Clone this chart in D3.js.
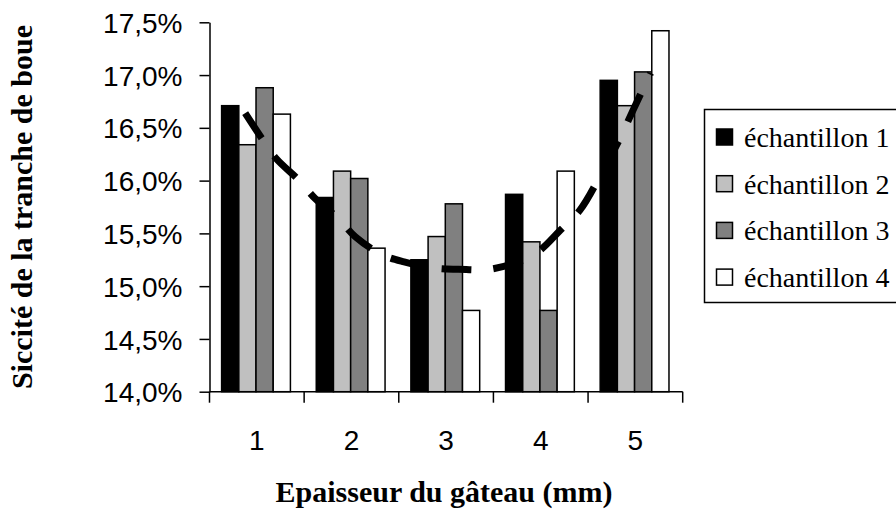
<!DOCTYPE html>
<html><head><meta charset="utf-8">
<script src="https://cdn.jsdelivr.net/npm/d3@7"></script>
<style>body{margin:0;background:#fff}svg{display:block}
.serif{font-family:"Liberation Serif","Times New Roman",serif}
.sans{font-family:"Liberation Sans",Arial,sans-serif}
</style>
</head><body>
<svg id="chart" width="896" height="511"></svg>
<script>
const categories = ["1","2","3","4","5"];
const seriesNames = ["échantillon 1","échantillon 2","échantillon 3","échantillon 4"];
const serie1 = [16.71, 15.84, 15.25, 15.87, 16.95];
const serie2 = [16.34, 16.09, 15.47, 15.42, 16.71];
const serie3 = [16.88, 16.02, 15.78, 14.77, 17.03];
const serie4 = [16.63, 15.36, 14.77, 16.09, 17.42];
const seriesColors = ["#000000","#c0c0c0","#808080","#ffffff"];
const yTicks = [14.0, 14.5, 15.0, 15.5, 16.0, 16.5, 17.0, 17.5];
// dashed trend curve (x in category units, value in %)
const trendX = [0.877, 1.053, 1.204, 1.450, 1.616, 1.862, 2.039, 2.320, 2.556, 2.883, 3.129, 3.464, 3.816, 3.992, 4.196, 4.414, 4.643, 4.837, 4.977, 5.161];
const trendY = [16.64, 16.40, 16.21, 16.00, 15.83, 15.64, 15.47, 15.30, 15.23, 15.17, 15.16, 15.16, 15.25, 15.34, 15.52, 15.72, 16.07, 16.40, 16.67, 17.02];

const allSeries = [serie1, serie2, serie3, serie4];
const svg = d3.select("#chart");
const L = 209.5, R = 682.7, T = 22.3, B = 391.7;

const x0 = d3.scaleBand().domain(categories).range([L, R]).padding(0);
const bw = x0.bandwidth();
const x1 = d3.scaleBand().domain(d3.range(4)).range([bw*0.128, bw*0.855]).padding(0);
const xc = d3.scaleLinear().domain([0.5, 5.5]).range([L, R]);
const y = d3.scaleLinear().domain([14, 17.5]).range([B, T]);

// bars
const g = svg.append("g");
categories.forEach((c, ci) => {
  allSeries.forEach((s, si) => {
    g.append("rect")
      .attr("x", x0(c) + x1(si))
      .attr("y", y(s[ci]))
      .attr("width", x1.bandwidth())
      .attr("height", y(14) - y(s[ci]))
      .attr("fill", seriesColors[si])
      .attr("stroke", "#000")
      .attr("stroke-width", 1.5);
  });
});

// trend line
const pts = trendX.map((v, i) => [xc(v), y(trendY[i])]);
svg.append("path")
  .attr("d", d3.line().curve(d3.curveCatmullRom)(pts))
  .attr("fill", "none")
  .attr("stroke", "#000")
  .attr("stroke-width", 7)
  .attr("stroke-dasharray", "30,22");

// y axis
const yAxis = d3.axisLeft(y).tickValues(yTicks).tickSize(10).tickSizeOuter(0)
  .tickFormat(d => d3.format(".1f")(d).replace(".", ",") + "%");
const ya = svg.append("g").attr("transform", `translate(${L},0)`).call(yAxis);
ya.attr("font-family", null).attr("font-size", null);
ya.selectAll("text").attr("class", "sans")
  .attr("font-size", 28).attr("fill", "#000").attr("x", -27).attr("dy", "0.36em");
ya.selectAll("line,path").attr("stroke", "#000").attr("stroke-width", 1.5);

// x axis
const xa = svg.append("g").attr("transform", `translate(0,${B})`);
xa.append("line").attr("x1", L).attr("x2", R).attr("y1", 0).attr("y2", 0)
  .attr("stroke", "#000").attr("stroke-width", 1.5);
const bounds = categories.map(c => x0(c)).concat([R]);
xa.selectAll("line.tk").data(bounds).enter().append("line").attr("class", "tk")
  .attr("x1", d => d).attr("x2", d => d).attr("y1", 0).attr("y2", 11)
  .attr("stroke", "#000").attr("stroke-width", 1.5);
xa.selectAll("text").data(categories).enter().append("text")
  .attr("class", "sans")
  .attr("x", d => x0(d) + bw/2).attr("y", 58)
  .attr("text-anchor", "middle").attr("font-size", 28)
  .text(d => d);

// titles
svg.append("text").attr("class", "serif")
  .attr("transform", "translate(32,207) rotate(-90)")
  .attr("text-anchor", "middle")
  .attr("font-weight", "bold").attr("font-size", 30)
  .text("Siccité de la tranche de boue");
svg.append("text").attr("class", "serif")
  .attr("x", 444).attr("y", 502)
  .attr("text-anchor", "middle")
  .attr("font-weight", "bold").attr("font-size", 30)
  .text("Epaisseur du gâteau (mm)");

// legend
const lg = svg.append("g");
lg.append("rect").attr("x", 704.5).attr("y", 109.5).attr("width", 200).attr("height", 193)
  .attr("fill", "#fff").attr("stroke", "#000").attr("stroke-width", 1.5);
seriesNames.forEach((n, i) => {
  const cy = 137 + i*46.7;
  lg.append("rect").attr("x", 716.5).attr("y", cy - 8).attr("width", 16).attr("height", 16)
    .attr("fill", seriesColors[i]).attr("stroke", "#000").attr("stroke-width", 1.5);
  lg.append("text").attr("class", "serif").attr("x", 744).attr("y", cy + 10)
    .attr("font-size", 28)
    .text(n);
});
</script>
</body></html>
